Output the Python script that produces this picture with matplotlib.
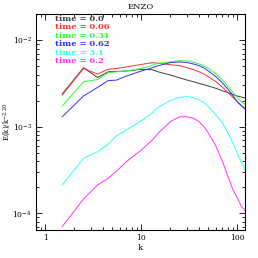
import matplotlib
matplotlib.use("Agg")
import matplotlib.pyplot as plt
from matplotlib.ticker import LogFormatterMathtext, NullFormatter

k = [1.5, 2.5, 3.5, 4.5, 5.5, 7, 10, 13, 15, 20, 25, 30, 35, 40, 45, 50, 60, 70, 80, 90, 100, 110, 120]

times = ["0.0", "0.06", "0.31", "0.62", "3.1", "6.2"]
colors = ["#404040", "#ff3030", "#30ff30", "#3030ff", "#30ffff", "#ff30ff"]

e_t0 = [2.38e-3, 4.8e-3, 3.7e-3, 4.3e-3, 4.35e-3, 4.4e-3, 4.6e-3, 4.55e-3, 4.3e-3, 3.95e-3, 3.67e-3, 3.45e-3, 3.3e-3, 3.16e-3, 3.05e-3, 2.95e-3, 2.77e-3, 2.6e-3, 2.47e-3, 2.35e-3, 2.26e-3, 2.2e-3, 2.15e-3]
e_t1 = [2.32e-3, 4.71e-3, 4.05e-3, 4.6e-3, 4.7e-3, 4.9e-3, 5.24e-3, 5.5e-3, 5.4e-3, 5.2e-3, 5.06e-3, 4.8e-3, 4.55e-3, 4.3e-3, 4.05e-3, 3.77e-3, 3.3e-3, 2.85e-3, 2.47e-3, 2.18e-3, 1.94e-3, 1.76e-3, 1.63e-3]
e_t2 = [1.73e-3, 3.3e-3, 3.5e-3, 4.2e-3, 4.3e-3, 4.4e-3, 4.7e-3, 5.1e-3, 5.4e-3, 5.6e-3, 5.78e-3, 5.75e-3, 5.55e-3, 5.3e-3, 5.0e-3, 4.7e-3, 4.06e-3, 3.45e-3, 2.9e-3, 2.48e-3, 2.16e-3, 1.95e-3, 1.81e-3]
e_t3 = [1.30e-3, 2.26e-3, 2.84e-3, 3.4e-3, 3.45e-3, 3.85e-3, 4.4e-3, 4.8e-3, 5.06e-3, 5.5e-3, 5.6e-3, 5.5e-3, 5.3e-3, 5.06e-3, 4.75e-3, 4.4e-3, 3.77e-3, 3.2e-3, 2.7e-3, 2.28e-3, 1.94e-3, 1.74e-3, 1.6e-3]
e_t4 = [2.12e-4, 4.3e-4, 5.15e-4, 6.25e-4, 7.8e-4, 9.15e-4, 1.17e-3, 1.45e-3, 1.67e-3, 2.0e-3, 2.18e-3, 2.22e-3, 2.16e-3, 2.03e-3, 1.89e-3, 1.7e-3, 1.36e-3, 1.1e-3, 8.4e-4, 6.45e-4, 4.9e-4, 3.9e-4, 3.16e-4]
e_t5 = [7.0e-5, 1.46e-4, 2.12e-4, 2.53e-4, 3.05e-4, 3.95e-4, 5.37e-4, 7.0e-4, 8.4e-4, 1.14e-3, 1.30e-3, 1.30e-3, 1.25e-3, 1.14e-3, 1.0e-3, 8.4e-4, 5.9e-4, 3.95e-4, 2.65e-4, 1.86e-4, 1.5e-4, 1.2e-4, 1.08e-4]
series = [e_t0, e_t1, e_t2, e_t3, e_t4, e_t5]

plt.rcParams['font.family'] = ['DejaVu Serif']
plt.rcParams['mathtext.fontset'] = 'dejavuserif'

fig = plt.figure(figsize=(2.58, 2.58), dpi=100)
ax = fig.add_axes([0.1395, 0.1085, 0.81, 0.837])

for e, c in zip(series, colors):
    ax.plot(k, e, color=c, lw=0.7)

ax.set_xscale('log')
ax.set_yscale('log')
ax.set_xlim(0.8, 120)
ax.set_ylim(6.4e-5, 2.0e-2)

ax.xaxis.set_major_formatter(plt.FuncFormatter(lambda v, p: f"{int(round(v))}"))
ax.yaxis.set_major_formatter(LogFormatterMathtext())
ax.xaxis.set_minor_formatter(NullFormatter())
ax.yaxis.set_minor_formatter(NullFormatter())
ax.tick_params(which='both', direction='in', top=True, right=True, labelsize=5.5, width=0.6, pad=3)
ax.tick_params(which='major', length=4)
ax.tick_params(which='minor', length=2)
for s in ax.spines.values():
    s.set_linewidth(0.8)

ax.set_xlabel('k', fontsize=6, labelpad=1)
ax.set_ylabel(r'E(k)/k$^{-2.20}$', fontsize=5)
ax.yaxis.set_label_coords(-0.11, 0.5)
ax.set_title('ENZO', fontsize=6, pad=4)

for i, (t, c) in enumerate(zip(times, colors)):
    ax.text(0.091, 0.977 - i * 0.039, f"time = {t}", color=c, fontsize=6,
            fontweight='bold', transform=ax.transAxes, va='center', ha='left')

fig.savefig('out.png', dpi=100)
